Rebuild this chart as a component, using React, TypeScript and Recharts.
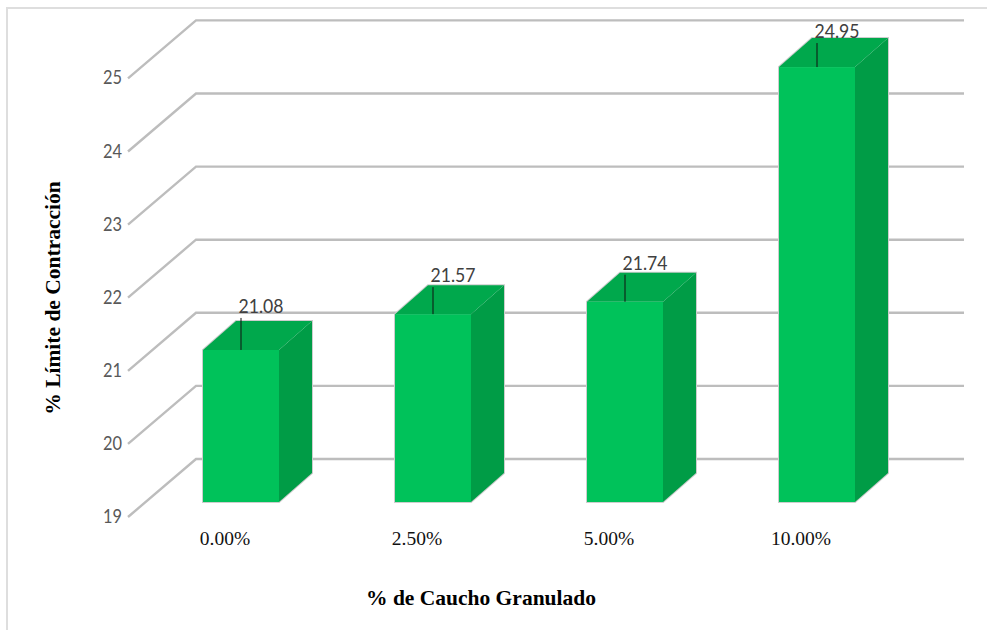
import { BarChart, Bar, CartesianGrid, XAxis, YAxis, LabelList, Label } from "recharts";

const categories = ["0.00%", "2.50%", "5.00%", "10.00%"];
const limits = [21.08, 21.57, 21.74, 24.95];
const yTicks = [19, 20, 21, 22, 23, 24, 25];

// leader line lengths, per bar
const leaders = [32, 27, 27, 24];

const data = categories.map((name, i) => ({ name, value: limits[i] }));

const FRONT = "#00c25a";
const TOP = "#00a84c";
const SIDE = "#009c46";
const EDGE = "#cdcdcd";
const DX = 33;
const DY = 29;

function Bar3D({ x, y, width, height }: any) {
  const r = x + width;
  const b = y + height;
  return (
    <g>
      <path d={`M${x} ${b}V${y}L${x + DX} ${y - DY}H${r + DX}V${b - DY}L${r} ${b}Z`} fill="none" stroke={EDGE} strokeWidth={2} />
      <rect x={x} y={y} width={width} height={height} fill={FRONT} />
      <path d={`M${x} ${y}L${x + DX} ${y - DY}H${r + DX}L${r} ${y}Z`} fill={TOP} />
      <path d={`M${r} ${y}L${r + DX} ${y - DY}V${b - DY}L${r} ${b}Z`} fill={SIDE} />
    </g>
  );
}

function GridLine({ y1 }: any) {
  return <polyline points={`128,${y1 + 15} 196,${y1 - 43} 964,${y1 - 43}`} fill="none" stroke="#bdbdbd" strokeWidth={2.4} />;
}

function ValueLabel({ x, y, width, value, index }: any) {
  const cx = x + width / 2;
  const top = y - leaders[index];
  return (
    <g>
      <line x1={cx} x2={cx} y1={y} y2={top} stroke="#111" strokeWidth={1} />
      <text x={cx + 20} y={top - 5} textAnchor="middle" fontFamily="Lato" fontSize={19} textLength={45} lengthAdjust="spacingAndGlyphs" fill="#404040">{value.toFixed(2)}</text>
    </g>
  );
}

function YTick({ y, payload }: any) {
  return <text x={103} y={y + 21} fontFamily="Lato" fontSize={19.5} textLength={19} lengthAdjust="spacingAndGlyphs" fill="#595959">{payload.value}</text>;
}

function XTick({ x, payload }: any) {
  return <text x={x - 16} y={545} textAnchor="middle" fontFamily="Liberation Serif" fontSize={19.5} fill="#111">{payload.value}</text>;
}

function XTitle() {
  return <text x={481} y={605} textAnchor="middle" fontFamily="Liberation Serif" fontWeight="bold" fontSize={21.5} fill="#000">% de Caucho Granulado</text>;
}

function YTitle() {
  return <text x={60} y={298} textAnchor="middle" transform="rotate(-90 60 298)" fontFamily="Liberation Serif" fontWeight="bold" fontSize={21.5} fill="#000">% Límite de Contracción</text>;
}

export default function App() {
  return (
    <div style={{ position: "absolute", left: 0, top: 0, width: 987, height: 630, background: "#fff" }}>
      <div style={{ position: "absolute", left: 6, top: 7, right: 0, bottom: 0, borderLeft: "2px solid #dedede", borderTop: "2px solid #dedede" }} />
      <div style={{ position: "absolute", left: 0, top: 0 }}>
        <BarChart width={987} height={630} data={data} barSize={76} margin={{ top: 63.4, right: 74, left: 85, bottom: 0 }}>
          <CartesianGrid vertical={false} horizontal={(p: any) => <GridLine key={p.index} {...p} />} />
          <XAxis dataKey="name" height={128} axisLine={false} tickLine={false} tick={<XTick />} interval={0}>
            <Label content={<XTitle />} />
          </XAxis>
          <YAxis width={60} domain={[19, 25]} ticks={yTicks} axisLine={false} tickLine={false} tick={<YTick />}>
            <Label content={<YTitle />} />
          </YAxis>
          <Bar dataKey="value" shape={<Bar3D />} isAnimationActive={false}>
            <LabelList dataKey="value" content={<ValueLabel />} />
          </Bar>
        </BarChart>
      </div>
    </div>
  );
}
